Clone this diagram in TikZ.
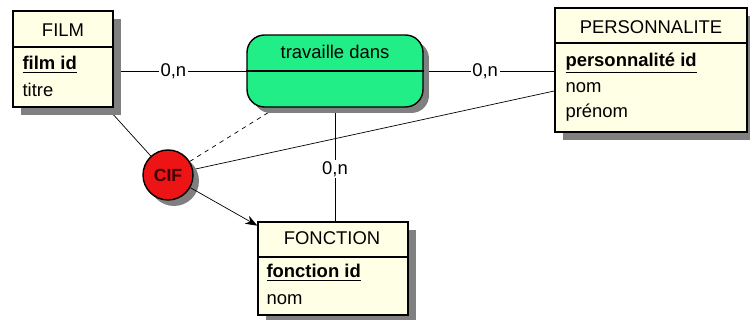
\documentclass[tikz,border=0pt]{standalone}
\usepackage{fontspec}
\setmainfont{Liberation Sans}
\usetikzlibrary{arrows.meta,shadows}

\definecolor{entityfill}{RGB}{255,255,230}
\definecolor{relfill}{RGB}{34,238,136}
\definecolor{ciffill}{RGB}{236,20,20}
\definecolor{ciftext}{RGB}{60,0,0}
\definecolor{shadowgray}{RGB}{128,128,128}

\pgfdeclarelayer{background}
\pgfsetlayers{background,main}

\tikzset{
  entity/.style={draw, line width=0.8pt, fill=entityfill, inner sep=0pt,
    drop shadow={shadow xshift=0.16cm, shadow yshift=-0.16cm, fill=shadowgray, opacity=1}},
  relation/.style={draw, line width=0.8pt, fill=relfill, rounded corners=0.35cm, inner sep=0pt,
    drop shadow={shadow xshift=0.12cm, shadow yshift=-0.12cm, fill=shadowgray, opacity=1}},
  cif/.style={circle, draw, line width=0.8pt, fill=ciffill, text=ciftext, font=\bfseries,
    minimum size=1cm, inner sep=0pt,
    drop shadow={shadow xshift=0.12cm, shadow yshift=-0.12cm, fill=shadowgray, opacity=1}},
  attr/.style={anchor=west, inner sep=0pt},
  card/.style={fill=white, inner sep=1pt}
}

\begin{document}
\begin{tikzpicture}[x=0.02cm, y=-0.02cm, font=\fontsize{10.5}{12.5}\selectfont, line width=0.6pt]
\useasboundingbox (0,0) rectangle (750,320);
% FILM
\node[entity, minimum width=2cm, minimum height=1.92cm] (film) at (63,59) {};
\draw[line width=0.8pt] (film.west |- 0,47) -- (film.east |- 0,47);
\node (filmname) at (63,30) {FILM};
\node[attr] (filmid) at (22,65) {\underline{\textbf{film id}}};
\node[attr] (filmtitre) at (22,90) {titre};
% PERSONNALITE
\node[entity, minimum width=3.84cm, minimum height=2.48cm] (pers) at (651,70) {};
\draw[line width=0.8pt] (pers.west |- 0,43) -- (pers.east |- 0,43);
\node (persname) at (651,27) {PERSONNALITE};
\node[attr] (persid) at (565,63) {\underline{\textbf{personnalité id}}};
\node[attr] (persnom) at (565,88) {nom};
\node[attr] (persprenom) at (565,113) {prénom};
% FONCTION
\node[entity, minimum width=3cm, minimum height=1.86cm] (fonc) at (333,268.5) {};
\draw[line width=0.8pt] (fonc.west |- 0,257) -- (fonc.east |- 0,257);
\node (foncname) at (332,238) {FONCTION};
\node[attr] (foncid) at (266,273) {\underline{\textbf{fonction id}}};
\node[attr] (foncnom) at (266,300) {nom};
% travaille dans
\node[relation, minimum width=3.52cm, minimum height=1.44cm] (rel) at (335,71) {};
\draw[line width=0.8pt] (rel.west) -- (rel.east);
\node (relname) at (335,52) {travaille dans};
% CIF
\node[cif] (cif) at (168,175) {CIF};
% Links
\begin{pgfonlayer}{background}
\draw (film.east |- rel.west) -- node[card, pos=0.45] (card1) {0,n} (rel.west);
\draw (rel.east) -- node[card, pos=0.47] (card2) {0,n} (rel.east -| pers.west);
\draw (rel.south) -- node[card, pos=0.54] (card3) {0,n} (rel.south |- fonc.north);
\draw (film) -- (cif);
\draw[dash pattern=on 2.5pt off 2.5pt] (cif) -- (rel);
\draw (cif) -- (pers);
\end{pgfonlayer}
\draw[-{Stealth[length=2.4mm, width=1.8mm]}] (cif) -- (fonc);
\end{tikzpicture}
\end{document}
